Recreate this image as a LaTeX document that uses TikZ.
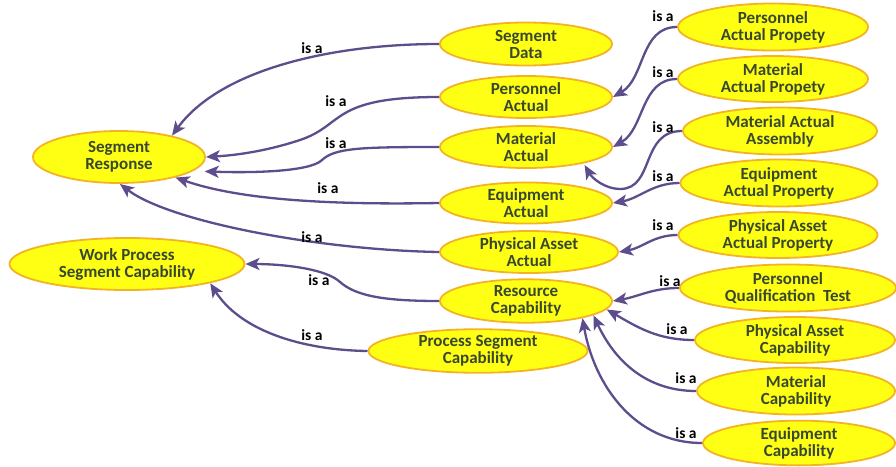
\documentclass[tikz,border=0pt]{standalone}
\usepackage{fontspec}
\setmainfont{Carlito}
\usetikzlibrary{shapes.geometric,arrows.meta}
\definecolor{nodefill}{RGB}{255,255,20}
\definecolor{nodeline}{RGB}{243,180,35}
\definecolor{nodetext}{RGB}{56,72,46}
\definecolor{edgecol}{RGB}{94,77,140}
\tikzset{
  concept/.style={ellipse, draw=nodeline, line width=1.8pt, fill=nodefill,
    text=nodetext, font=\bfseries\fontsize{17}{17}\selectfont, align=center,
    inner sep=0pt, outer sep=1pt},
  isa/.style={draw=edgecol, line width=2.3pt, -{Stealth[length=14pt,width=12pt,inset=3.5pt]}},
  lbl/.style={font=\bfseries\fontsize{15.5}{16}\selectfont, text=black, inner sep=0pt}
}
\begin{document}
\begin{tikzpicture}[x=1pt,y=1pt]
\useasboundingbox[fill=white] (0,0) rectangle (896,-466);
% left column
\node[concept, minimum width=172pt, minimum height=52pt] (sr) at (119,-157) {Segment\\Response};
\node[concept, minimum width=235pt, minimum height=52pt] (wp) at (127,-264) {Work Process\\Segment Capability};
% middle column
\node[concept, minimum width=172pt, minimum height=43pt] (sd) at (526,-44) {Segment\\Data};
\node[concept, minimum width=172pt, minimum height=42pt] (pa) at (526,-97) {Personnel\\Actual};
\node[concept, minimum width=172pt, minimum height=42pt] (ma) at (526,-147) {Material\\Actual};
\node[concept, minimum width=172pt, minimum height=41pt] (ea) at (526,-203) {Equipment\\Actual};
\node[concept, minimum width=178pt, minimum height=42pt] (paa) at (529,-252) {Physical Asset\\Actual};
\node[concept, minimum width=172pt, minimum height=42pt] (rc) at (526,-301) {Resource\\Capability};
\node[concept, minimum width=219pt, minimum height=42pt] (psc) at (478,-351) {Process Segment\\Capability};
% right column
\node[concept, minimum width=190pt, minimum height=47pt] (pap) at (773,-27) {Personnel\\Actual Propety};
\node[concept, minimum width=190pt, minimum height=46pt] (map) at (773,-79) {Material\\Actual Propety};
\node[concept, minimum width=194pt, minimum height=47pt] (maa) at (780,-131) {Material Actual\\Assembly};
\node[concept, minimum width=197pt, minimum height=47pt] (eap) at (779,-183) {Equipment\\Actual Property};
\node[concept, minimum width=199pt, minimum height=46pt] (paap) at (778,-235) {Physical Asset\\Actual Property};
\node[concept, minimum width=216pt, minimum height=47pt] (pqt) at (788,-288) {Personnel\\Qualification\ \ Test};
\node[concept, minimum width=200pt, minimum height=46pt] (pac) at (795,-340) {Physical Asset\\Capability};
\node[concept, minimum width=198pt, minimum height=47pt] (mc) at (796,-391) {Material\\Capability};
\node[concept, minimum width=192pt, minimum height=44pt] (ec) at (799,-443) {Equipment\\Capability};
% connectors to Segment Response / Work Process
\draw[isa] (sd.west) .. controls (330,-44) and (220,-70) .. (sr.22);
\draw[isa] (pa.west) .. controls (330,-97) and (345,-125) .. (300,-140) .. controls (270,-150) and (240,-155) .. (sr.east);
\draw[isa] (ma.west) .. controls (360,-147) and (335,-148) .. (322,-160) .. controls (310,-172) and (250,-173) .. ([xshift=12pt]sr.-11);
\draw[isa] (ea.west) .. controls (330,-205) and (240,-200) .. (sr.-20);
\draw[isa] (paa.west) .. controls (320,-250) and (170,-222) .. (sr.-88);
\draw[isa] (rc.west) .. controls (380,-301) and (355,-295) .. (340,-282) .. controls (325,-268) and (280,-264) .. (wp.east);
\draw[isa] (psc.west) .. controls (300,-350) and (240,-330) .. (wp.-13);
% connectors to middle column
\draw[isa] (pap.west) to[out=180,in=30] (pa.east);
\draw[isa] (map.west) to[out=180,in=30] (ma.east);
\draw[isa] (maa.west) .. controls (640,-131) and (655,-189) .. (620,-189) .. controls (605,-189) and (592,-178) .. ([xshift=9pt]ma.-20);
\draw[isa] (eap.west) to[out=180,in=10] (ea.east);
\draw[isa] (paap.west) to[out=180,in=10] (paa.east);
\draw[isa] (pqt.west) to[out=180,in=10] (rc.east);
\draw[isa] (pac.west) to[out=180,in=-30] (rc.-6);
\draw[isa] (mc.west) to[out=180,in=-65] (rc.-12);
\draw[isa] (ec.west) to[out=180,in=-80] (rc.-17);
% labels
\node[lbl] (l1) at (312,-48) {is a};
\node[lbl] (l2) at (336,-101) {is a};
\node[lbl] (l3) at (336,-143) {is a};
\node[lbl] (l4) at (328,-188) {is a};
\node[lbl] (l5) at (312,-237) {is a};
\node[lbl] (l6) at (319,-280) {is a};
\node[lbl] (l7) at (312,-335) {is a};
\node[lbl] (l8) at (663,-16) {is a};
\node[lbl] (l9) at (663,-72) {is a};
\node[lbl] (l10) at (663,-127) {is a};
\node[lbl] (l11) at (663,-176) {is a};
\node[lbl] (l12) at (663,-225) {is a};
\node[lbl] (l13) at (670,-281) {is a};
\node[lbl] (l14) at (677,-329) {is a};
\node[lbl] (l15) at (686,-378) {is a};
\node[lbl] (l16) at (686,-433) {is a};
\end{tikzpicture}
\end{document}
